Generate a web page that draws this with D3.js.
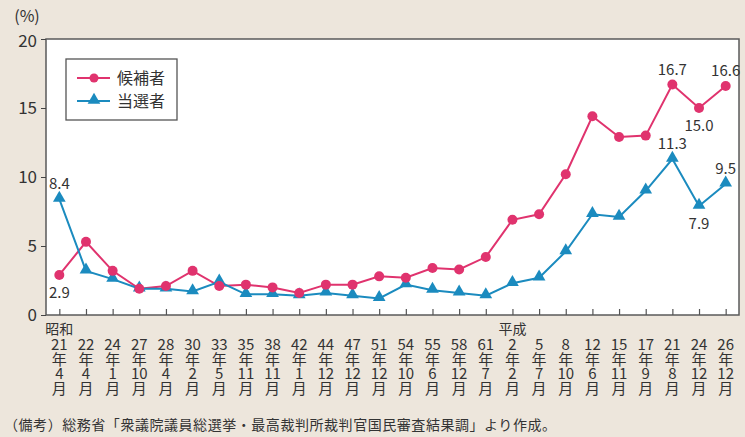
<!DOCTYPE html>
<html>
<head>
<meta charset="utf-8">
<script src="https://cdn.jsdelivr.net/npm/d3@7"></script>
<style>
  body { margin: 0; background: #ede6dc; }
  svg { display: block; font-family: "Noto Sans CJK JP", "Noto Sans", sans-serif; }
</style>
</head>
<body>
<div id="chart"></div>
<script>
// election dates (year, month) and era labels
const years = ["21","22","24","27","28","30","33","35","38","42","44","47","51","54","55","58","61","2","5","8","12","15","17","21","24","26"];
const months = ["4","4","1","10","4","2","5","11","11","1","12","12","12","10","6","12","7","2","7","10","6","11","9","8","12","12"];
const eras = [{ index: 0, label: "昭和" }, { index: 17, label: "平成" }];

// women's share (%)
const candidates = [2.9, 5.3, 3.2, 1.9, 2.1, 3.2, 2.1, 2.2, 2.0, 1.6, 2.2, 2.2, 2.8, 2.7, 3.4, 3.3, 4.2, 6.9, 7.3, 10.2, 14.4, 12.9, 13.0, 16.7, 15.0, 16.6];
const elected = [8.4, 3.2, 2.6, 1.9, 1.9, 1.7, 2.4, 1.5, 1.5, 1.4, 1.6, 1.4, 1.2, 2.2, 1.8, 1.6, 1.4, 2.3, 2.7, 4.6, 7.3, 7.1, 9.0, 11.3, 7.9, 9.5];
const yTicks = [0, 5, 10, 15, 20];

// which points get a value label, and where (above / below)
const candLabels = [{ i: 0, pos: "below" }, { i: 23, pos: "above" }, { i: 24, pos: "below" }, { i: 25, pos: "above" }];
const electLabels = [{ i: 0, pos: "above" }, { i: 23, pos: "above" }, { i: 24, pos: "below" }, { i: 25, pos: "above" }];

const width = 745, height = 437;
const mLeft = 46, mRight = 739, mTop = 39, mBottom = 315;
const pink = "#e0336e", blue = "#1b8bbf";

const svg = d3.select("#chart").append("svg")
  .attr("width", width)
  .attr("height", height);

const x = d3.scalePoint()
  .domain(d3.range(years.length))
  .range([mLeft, mRight])
  .padding(0.5);

const y = d3.scaleLinear()
  .domain([0, 20])
  .range([mBottom, mTop]);

// plot area
svg.append("rect")
  .attr("x", mLeft).attr("y", mTop)
  .attr("width", mRight - mLeft).attr("height", mBottom - mTop)
  .attr("fill", "#fff")
  .attr("stroke", "#5a5a5a")
  .attr("stroke-width", 1.5);

// y axis
const yAxis = svg.append("g")
  .attr("transform", `translate(${mLeft},0)`)
  .call(d3.axisLeft(y).tickValues(yTicks).tickSize(5).tickPadding(4))
  .call(g => g.select(".domain").remove());
yAxis.selectAll("line").attr("stroke", "#444");
yAxis.selectAll("text")
  .attr("font-size", 17)
  .attr("fill", "#333")
  .attr("font-family", "Noto Sans CJK JP");
yAxis.selectAll(".tick")
  .filter(d => d === 20)
  .select("text").attr("dy", "0.45em");

svg.append("text")
  .attr("x", 27).attr("y", 22)
  .attr("text-anchor", "middle")
  .attr("font-size", 16)
  .attr("fill", "#333")
  .text("(%)");

// x ticks pointing up into the plot
const xAxis = svg.append("g")
  .attr("transform", `translate(0,${mBottom})`)
  .call(d3.axisTop(x).tickSize(6).tickFormat(""))
  .call(g => g.select(".domain").remove());
xAxis.selectAll("line").attr("stroke", "#555").attr("stroke-width", 1.2);

// x labels: year / 年 / month / 月 stacked
const rows = [d => years[d], () => "年", d => months[d], () => "月"];
const xg = svg.append("g");
rows.forEach((fn, r) => {
  xg.append("g").selectAll("text")
    .data(d3.range(years.length))
    .join("text")
    .attr("x", d => x(d))
    .attr("y", 350 + r * 14.5)
    .attr("text-anchor", "middle")
    .attr("font-size", 15)
    .attr("fill", "#333")
    .text(fn);
});

svg.append("g").selectAll("text")
  .data(eras)
  .join("text")
  .attr("x", d => x(d.index))
  .attr("y", 334)
  .attr("text-anchor", "middle")
  .attr("font-size", 14)
  .attr("fill", "#333")
  .text(d => d.label);

// lines and markers
const line = d3.line()
  .x((d, i) => x(i))
  .y(d => y(d));

svg.append("path")
  .datum(candidates)
  .attr("d", line)
  .attr("fill", "none")
  .attr("stroke", pink)
  .attr("stroke-width", 2);

svg.append("path")
  .datum(elected)
  .attr("d", line)
  .attr("fill", "none")
  .attr("stroke", blue)
  .attr("stroke-width", 2);

const tri = d3.symbol().type(d3.symbolTriangle).size(70);

svg.append("g").selectAll("path")
  .data(elected)
  .join("path")
  .attr("d", tri)
  .attr("transform", (d, i) => `translate(${x(i)},${y(d) - 1})`)
  .attr("fill", blue);

svg.append("g").selectAll("circle")
  .data(candidates)
  .join("circle")
  .attr("cx", (d, i) => x(i))
  .attr("cy", d => y(d))
  .attr("r", 5)
  .attr("fill", pink);

// value labels
function addLabels(labels, values) {
  svg.append("g").selectAll("text")
    .data(labels)
    .join("text")
    .attr("x", d => x(d.i))
    .attr("y", d => y(values[d.i]) + (d.pos === "above" ? -10 : 23))
    .attr("text-anchor", "middle")
    .attr("font-size", 15)
    .attr("fill", "#333")
    .text(d => values[d.i].toFixed(1));
}
addLabels(candLabels, candidates);
addLabels(electLabels, elected);

// legend
const legend = svg.append("g");
legend.append("rect")
  .attr("x", 66).attr("y", 59)
  .attr("width", 111).attr("height", 61)
  .attr("fill", "#fff")
  .attr("stroke", "#555")
  .attr("stroke-width", 1.3);

const legendItems = [
  { label: "候補者", color: pink, shape: "circle", y: 78 },
  { label: "当選者", color: blue, shape: "triangle", y: 101 }
];
legendItems.forEach(d => {
  legend.append("line")
    .attr("x1", 77).attr("x2", 110)
    .attr("y1", d.y).attr("y2", d.y)
    .attr("stroke", d.color).attr("stroke-width", 2);
  if (d.shape === "circle") {
    legend.append("circle").attr("cx", 94).attr("cy", d.y).attr("r", 4.5).attr("fill", d.color);
  } else {
    legend.append("path").attr("d", tri).attr("transform", `translate(94,${d.y - 1})`).attr("fill", d.color);
  }
  legend.append("text")
    .attr("x", 117).attr("y", d.y + 6)
    .attr("font-size", 16)
    .attr("fill", "#333")
    .text(d.label);
});

// source note
svg.append("text")
  .attr("x", 4).attr("y", 430)
  .attr("font-size", 14)
  .attr("textLength", 552)
  .attr("lengthAdjust", "spacing")
  .attr("fill", "#333")
  .text("（備考）総務省「衆議院議員総選挙・最高裁判所裁判官国民審査結果調」より作成。");
</script>
</body>
</html>
